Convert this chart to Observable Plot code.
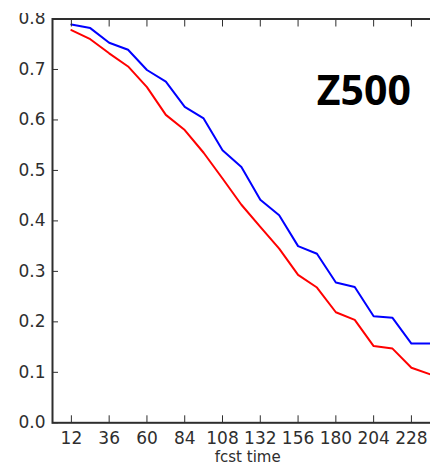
<!DOCTYPE html>
<html><head><meta charset="utf-8">
<script src="https://cdn.jsdelivr.net/npm/d3@7"></script>
<script src="https://cdn.jsdelivr.net/npm/@observablehq/plot@0.6"></script>
<style>body{margin:0;background:#fff} #chart{padding-top:13px}</style>
</head><body><div id="chart"></div>
<script>
const hours = [12,24,36,48,60,72,84,96,108,120,132,144,156,168,180,192,204,216,228,240];
const blueSkill = [0.789,0.782,0.753,0.739,0.699,0.676,0.626,0.603,0.540,0.507,0.442,0.411,0.350,0.335,0.278,0.269,0.211,0.208,0.157,0.157];
const redSkill  = [0.778,0.760,0.732,0.706,0.665,0.610,0.580,0.535,0.484,0.432,0.388,0.345,0.293,0.268,0.219,0.204,0.152,0.147,0.109,0.096];
const seriesNames = ["blue","red"];
const seriesColors = ["#4444e6","#e84646"];
const xTicks = [12,36,60,84,108,132,156,180,204,228];
const yTicks = [0,0.1,0.2,0.3,0.4,0.5,0.6,0.7,0.8];
const panelLabel = "Z500";
const xLabel = "fcst time";

const rows = hours.flatMap((h, i) => [
  {h, v: blueSkill[i], s: seriesNames[0]},
  {h, v: redSkill[i], s: seriesNames[1]}
]);
const ink = "#2e2e2e";
const blank = () => "";

const plot = Plot.plot({
  width: 430, height: 453,
  marginLeft: 52, marginRight: -12.4, marginTop: 5.5, marginBottom: 43.7,
  x: {domain: [0, 248]},
  y: {domain: [0, 0.8]},
  color: {domain: seriesNames, range: seriesColors},
  style: {fontFamily: "DejaVu Sans", color: ink, background: "white"},
  marks: [
    Plot.line(rows, {x: "h", y: "v", z: "s", stroke: "s", strokeWidth: 2}),
    Plot.axisX(xTicks, {anchor: "bottom", tickSize: 0, tickPadding: 9, fontSize: 17, label: null}),
    Plot.axisX(xTicks, {anchor: "bottom", tickSize: 7, dy: -7, tickFormat: blank, label: null}),
    Plot.axisX(xTicks, {anchor: "top", tickSize: 7, dy: 7, tickFormat: blank, label: null}),
    Plot.axisY(yTicks, {anchor: "left", tickSize: 0, tickPadding: 7, fontSize: 17, tickFormat: d3.format(".1f"), label: null}),
    Plot.axisY(yTicks, {anchor: "left", tickSize: 6, dx: 6, tickFormat: blank, label: null}),
    Plot.frame({stroke: ink, strokeWidth: 2}),
    Plot.text([xLabel], {text: d => d, frameAnchor: "bottom", dy: 39.5, lineAnchor: "bottom", fontSize: 15}),
    Plot.text([panelLabel], {text: d => d, frameAnchor: "top-right", dx: -32, dy: 73, textAnchor: "end", lineAnchor: "middle", fontSize: 41, fontWeight: "bold", fontFamily: "Open Sans", fill: "#000"})
  ]
});
document.getElementById("chart").append(plot);
</script>
</body></html>
